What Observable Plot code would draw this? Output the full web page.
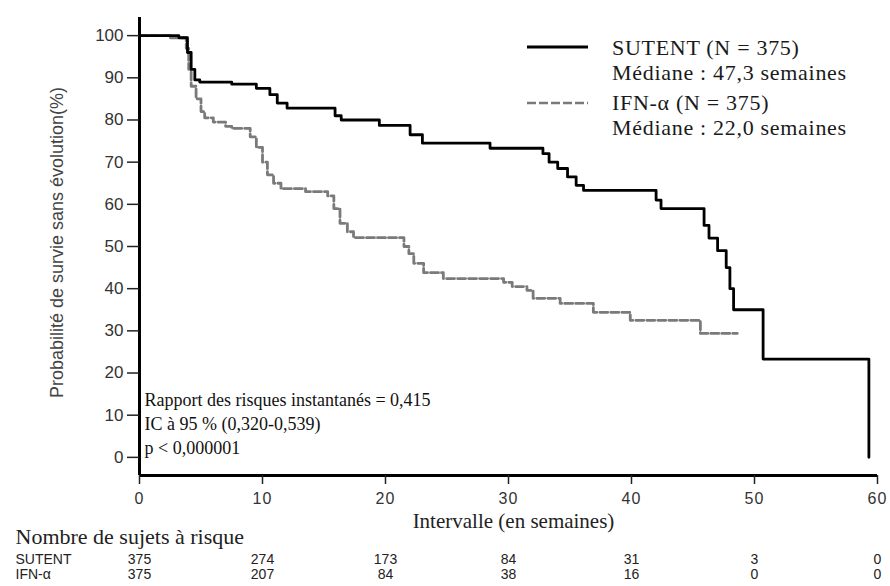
<!DOCTYPE html>
<html>
<head>
<meta charset="utf-8">
<script src="https://cdn.jsdelivr.net/npm/d3@7"></script>
<script src="https://cdn.jsdelivr.net/npm/@observablehq/plot@0.6"></script>
<style>
  body { margin: 0; background: #fff; }
  #wrap { position: relative; width: 890px; height: 586px; }
  #legend { position: absolute; left: 0; top: 0; font-family: "Liberation Serif", serif; font-size: 22px; letter-spacing: 0.7px; color: #1a1a1a; }
  #legend div { position: absolute; white-space: nowrap; line-height: 1; }
  g[aria-label="stats"] text { letter-spacing: -1.2px; }
  g[aria-label="xlabel"] text { letter-spacing: 2.2px; }
  g[aria-label="risk title"] text { letter-spacing: 1.9px; }
  g[aria-label="ylabel"] text { letter-spacing: 2px; }
  g[aria-label="risk"] text { letter-spacing: 1.5px; }
  g[aria-label="x-axis tick label"] text { letter-spacing: 1px; }
</style>
</head>
<body>
<div id="wrap"></div>
<script>
// ---- data ----
const sutentWeeks = [0, 3.2, 3.9, 4.2, 4.5, 4.9, 7.5, 9.5, 10.6, 11.2, 12.0, 15.9, 16.4, 19.5, 22.0, 23.0, 28.5, 32.8, 33.3, 34.0, 34.8, 35.5, 36.1, 42.0, 42.4, 45.9, 46.3, 47.0, 47.7, 48.0, 48.3, 50.7, 59.3];
const sutentSurv  = [100, 99.5, 96, 92, 89.5, 89, 88.5, 87.5, 86, 84, 82.8, 81, 80, 78.7, 76.5, 74.5, 73.3, 72, 70, 68.5, 66.5, 64.5, 63.3, 61, 59, 55, 52, 49, 45, 40, 35, 23.3, 0];

const ifnWeeks = [0, 2.5, 3.8, 4.0, 4.2, 4.6, 5.0, 5.3, 6.0, 7.0, 7.5, 9.0, 9.5, 10.0, 10.4, 10.9, 11.5, 13.5, 15.3, 15.8, 16.3, 16.9, 17.4, 21.5, 21.9, 22.3, 23.1, 24.7, 29.6, 30.3, 31.5, 32.0, 34.2, 36.9, 39.9, 45.6, 48.6];
const ifnSurv  = [100, 99.5, 97, 92, 88, 85, 82, 80.5, 79.5, 78.5, 78, 76, 73.5, 70, 67, 65, 63.7, 63, 62, 59, 55.5, 53.5, 52.1, 50, 48.3, 46, 43.8, 42.4, 41.5, 40.5, 39.6, 37.7, 36.5, 34.4, 32.5, 29.4, 29.4];

const xTicks = [0, 10, 20, 30, 40, 50, 60];
const yTicks = [0, 10, 20, 30, 40, 50, 60, 70, 80, 90, 100];

const riskWeeks  = [0, 10, 20, 30, 40, 50, 60];
const riskSutent = [375, 274, 173, 84, 31, 3, 0];
const riskIfn    = [375, 207, 84, 38, 16, 0, 0];
const riskRowLabels = ["SUTENT", "IFN-α"];

const seriesNames = ["SUTENT (N = 375)", "IFN-α (N = 375)"];
const medians = ["Médiane : 47,3 semaines", "Médiane : 22,0 semaines"];
const statLines = ["Rapport des risques instantanés = 0,415", "IC à 95 % (0,320-0,539)", "p < 0,000001"];

// ---- build ----
const sutent = sutentWeeks.map((t, i) => ({t, s: sutentSurv[i]}));
const ifn = ifnWeeks.map((t, i) => ({t, s: ifnSurv[i]}));
const yMin = -4.3, yMax = 104.3;
const serif = "Liberation Serif, serif";
const sans = "Liberation Sans, Arial, sans-serif";
const gray = "#7a7a7a";

const chart = Plot.plot({
  width: 890,
  height: 586,
  marginLeft: 139,
  marginRight: 13,
  marginTop: 17,
  marginBottom: 111,
  x: {domain: [0, 60]},
  y: {domain: [yMin, yMax]},
  style: {fontFamily: serif, color: "#222", background: "#fff"},
  marks: [
    Plot.line(ifn, {x: "t", y: "s", curve: "step-after", stroke: gray, strokeWidth: 2.8, strokeDasharray: "8,3"}),
    Plot.line(sutent, {x: "t", y: "s", curve: "step-after", stroke: "#000", strokeWidth: 2.8}),
    Plot.ruleX([0], {stroke: "#000", strokeWidth: 3}),
    Plot.ruleY([yMin], {stroke: "#000", strokeWidth: 3}),
    Plot.axisY({ticks: yTicks, tickSize: 12, tickPadding: 4, fontSize: 17, fontFamily: sans, fill: "#333", label: null, strokeWidth: 1.5}),
    Plot.axisX({ticks: xTicks, tickSize: 9, tickPadding: 8, fontSize: 16, fontFamily: sans, fill: "#333", label: null, strokeWidth: 1.5}),
    Plot.text(["Probabilité de survie sans évolution(%)"], {ariaLabel: "ylabel", frameAnchor: "left", textAnchor: "middle", rotate: -90, dx: -82, dy: -4, fontSize: 18, fontFamily: sans, fill: "#444"}),
    Plot.text(["Intervalle (en semaines)"], {ariaLabel: "xlabel", frameAnchor: "bottom", textAnchor: "middle", dx: 5, dy: 52, fontSize: 21}),
    ...statLines.map((l, i) => Plot.text([l], {ariaLabel: "stats", frameAnchor: "bottom-left", textAnchor: "start", dx: 5, dy: -70 + i * 24, fontSize: 18, fill: "#111"})),
    Plot.text(["Nombre de sujets à risque"], {ariaLabel: "risk title", frameAnchor: "bottom-left", textAnchor: "start", dx: -124, dy: 68, fontSize: 22}),
    ...riskRowLabels.map((l, i) => Plot.text([l], {ariaLabel: "risk", frameAnchor: "bottom-left", textAnchor: "start", dx: -124, dy: 88 + i * 15.5, fontSize: 14, fontFamily: sans})),
    Plot.text(riskWeeks, {ariaLabel: "risk", x: d => d, text: (d, i) => String(riskSutent[i]), frameAnchor: "bottom", dy: 88, fontSize: 14, fontFamily: sans}),
    Plot.text(riskWeeks, {ariaLabel: "risk", x: d => d, text: (d, i) => String(riskIfn[i]), frameAnchor: "bottom", dy: 103.5, fontSize: 14, fontFamily: sans})
  ]
});
const wrap = document.getElementById("wrap");
wrap.appendChild(chart);

// legend overlay
const leg = document.createElement("div");
leg.id = "legend";
leg.innerHTML = `
<svg width="890" height="150" style="position:absolute;left:0;top:0">
  <line x1="527" x2="588" y1="47" y2="47" stroke="#000" stroke-width="3.2"/>
  <line x1="527" x2="588" y1="103" y2="103" stroke="${gray}" stroke-width="2.6" stroke-dasharray="9,3"/>
</svg>
<div style="left:612px;top:37px">${seriesNames[0]}</div>
<div style="left:612px;top:62px">${medians[0]}</div>
<div style="left:612px;top:92px">${seriesNames[1]}</div>
<div style="left:612px;top:117px">${medians[1]}</div>`;
wrap.appendChild(leg);
</script>
</body>
</html>
